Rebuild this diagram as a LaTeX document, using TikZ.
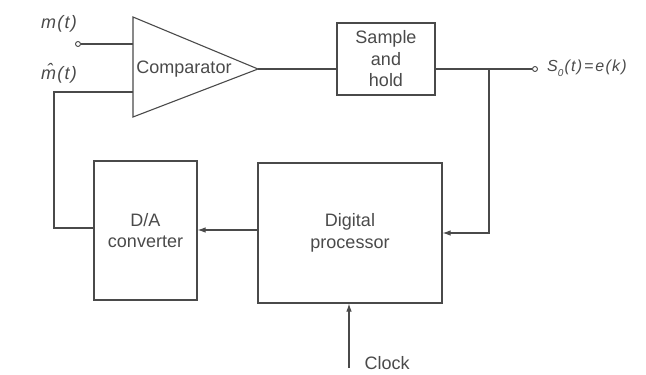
\documentclass[tikz,border=0pt]{standalone}
\usepackage{fontspec}
\setmainfont{Liberation Sans}
\usetikzlibrary{arrows.meta}
\definecolor{ink}{HTML}{4A4A4A}
\tikzset{
  wire/.style={draw=ink, line width=1.1pt},
  blk/.style={draw=ink, line width=1.1pt, text=ink, align=center, inner sep=0pt,
    font=\fontsize{18}{21.5}\selectfont},
  lbl/.style={text=ink, inner sep=0pt, font=\fontsize{18}{20}\selectfont\itshape},
  term/.style={circle, draw=ink, line width=0.9pt, fill=white, minimum size=5pt, inner sep=0pt},
  arr/.style={wire, -{Latex[length=8pt,width=5.5pt]}}
}
\newcommand{\spc}{\kern1.2pt}
\begin{document}
\begin{tikzpicture}[x=1pt,y=-1pt]
\useasboundingbox (0,0) rectangle (646,375);
% comparator triangle
\coordinate (ctop) at (133,17);
\coordinate (cbot) at (133,117);
\coordinate (cout) at (258,69);
\draw[wire, line join=miter] (ctop) -- (cbot) -- (cout) -- cycle;
\node[text=ink, font=\fontsize{18}{21.5}\selectfont] (comp) at (184,69) {Comparator};
\coordinate (cin1) at (133,44);
\coordinate (cin2) at (133,92);
% inputs
\node[term] (min) at (78,44) {};
\node[lbl, anchor=base] (mlab) at (59,28) {m\spc(\spc t\spc)};
\node[lbl, anchor=base] (mhlab) at (59,79) {\^{m}\spc(\spc t\spc)};
\draw[wire] (min) -- (cin1);
% sample and hold
\node[blk, minimum width=98pt, minimum height=72pt] (sh) at (386,59) {Sample\\and\\hold};
\draw[wire] (cout) -- (cout -| sh.west);
% output
\node[term] (out) at (535,69) {};
\node[lbl, anchor=west, font=\fontsize{16}{18}\selectfont\itshape] (olab) at (547,68) {S\raisebox{-0.3em}{\fontsize{10}{11}\selectfont 0}\spc(\spc t\spc)\kern2pt=\kern2pt e\spc(\spc k\spc)};
\coordinate (br) at (489,69);
\draw[wire] (sh.east |- br) -- (out);
% digital processor
\node[blk, minimum width=184pt, minimum height=140pt] (dp) at (350,233) {Digital\\processor};
% D/A
\node[blk, minimum width=103pt, minimum height=139pt] (da) at (145.5,230.5) {D/A\\converter};
\coordinate (bc) at (489,233);
\draw[arr] (br) -- (bc) -- (dp.east |- bc);
\draw[arr] (dp.west |- 0,230) -- (da.east |- 0,230);
% feedback
\coordinate (fb1) at (54,228);
\coordinate (fb2) at (54,92);
\draw[wire] (da.west |- fb1) -- (fb1) -- (fb2) -- (cin2);
% clock
\coordinate (clk) at (349,368);
\draw[arr] (clk) -- (clk |- dp.south);
\node[text=ink, anchor=base west, font=\fontsize{18}{21.5}\selectfont] (clab) at (361,369) {Clock};
\end{tikzpicture}
\end{document}
